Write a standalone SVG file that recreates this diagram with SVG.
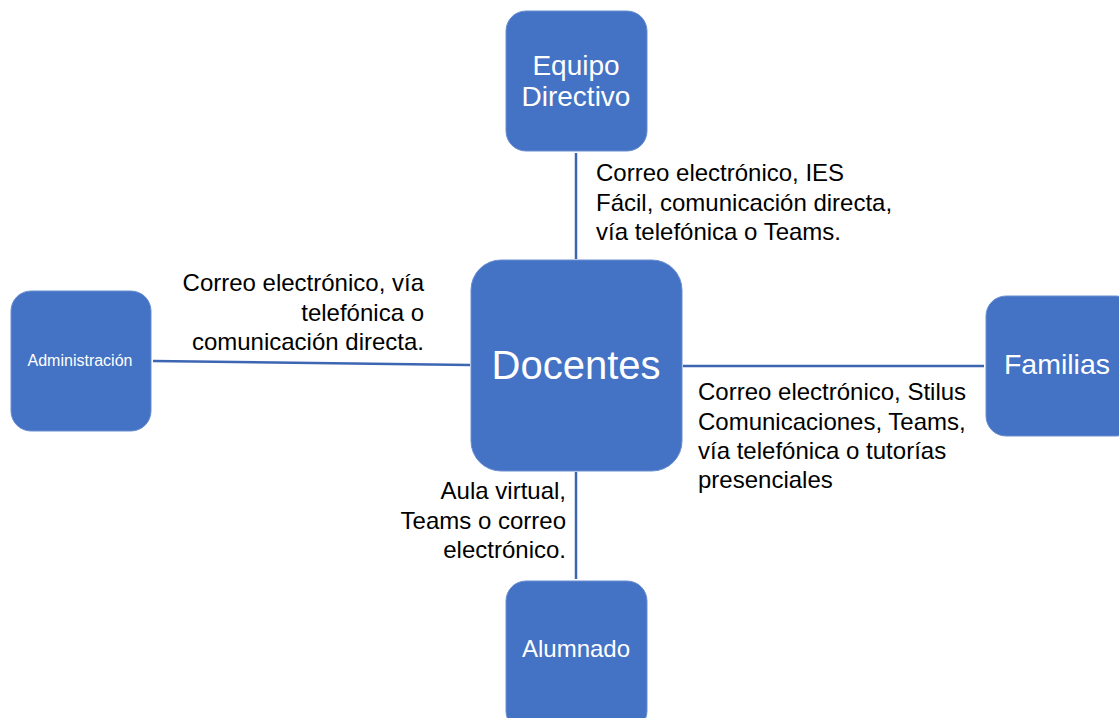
<svg xmlns="http://www.w3.org/2000/svg" width="1119" height="718" viewBox="0 0 1119 718">
<style>
.box{fill:#4472C4;stroke:#6B8FD0;stroke-width:1}
.nt{font-family:"Liberation Sans",Arial,sans-serif;fill:#FFFFFF;text-anchor:middle}
.lbl{font-family:"Liberation Sans",Arial,sans-serif;font-size:24px;fill:#000000}
.conn{stroke:#3C66B2;stroke-width:2.5;fill:none}
</style>
<rect width="1119" height="718" fill="#FFFFFF"/>
<g id="connectors">
<line class="conn" x1="576" y1="153" x2="576" y2="259"/>
<line class="conn" x1="153" y1="361" x2="470" y2="365"/>
<line class="conn" x1="683" y1="366" x2="984" y2="366"/>
<line class="conn" x1="576" y1="472" x2="576" y2="579"/>
</g>
<g id="node-docentes">
<rect class="box" x="471" y="260" width="211" height="211" rx="30"/>
<text class="nt" x="576" y="379" font-size="40">Docentes</text>
</g>
<g id="node-equipo">
<rect class="box" x="506" y="11" width="141" height="140" rx="20"/>
<text class="nt" x="576" y="75" font-size="28">Equipo</text>
<text class="nt" x="576" y="106" font-size="28">Directivo</text>
</g>
<g id="node-administracion">
<rect class="box" x="11" y="291" width="140" height="140" rx="20"/>
<text class="nt" x="80" y="366" font-size="16">Administración</text>
</g>
<g id="node-familias">
<rect class="box" x="986" y="296" width="150" height="140" rx="20"/>
<text class="nt" x="1057" y="374" font-size="28.5">Familias</text>
</g>
<g id="node-alumnado">
<rect class="box" x="506" y="581" width="141" height="150" rx="20"/>
<text class="nt" x="576" y="657" font-size="24">Alumnado</text>
</g>
<g id="labels">
<text class="lbl" x="596" y="181">Correo electrónico, IES</text>
<text class="lbl" x="596" y="211">Fácil, comunicación directa,</text>
<text class="lbl" x="596" y="240">vía telefónica o Teams.</text>
<text class="lbl" x="424" y="291" text-anchor="end">Correo electrónico, vía</text>
<text class="lbl" x="424" y="321" text-anchor="end">telefónica o</text>
<text class="lbl" x="424" y="350" text-anchor="end">comunicación directa.</text>
<text class="lbl" x="698" y="400">Correo electrónico, Stilus</text>
<text class="lbl" x="698" y="430">Comunicaciones, Teams,</text>
<text class="lbl" x="698" y="459">vía telefónica o tutorías</text>
<text class="lbl" x="698" y="488">presenciales</text>
<text class="lbl" x="566" y="499" text-anchor="end">Aula virtual,</text>
<text class="lbl" x="566" y="529" text-anchor="end">Teams o correo</text>
<text class="lbl" x="566" y="558" text-anchor="end">electrónico.</text>
</g>
</svg>
